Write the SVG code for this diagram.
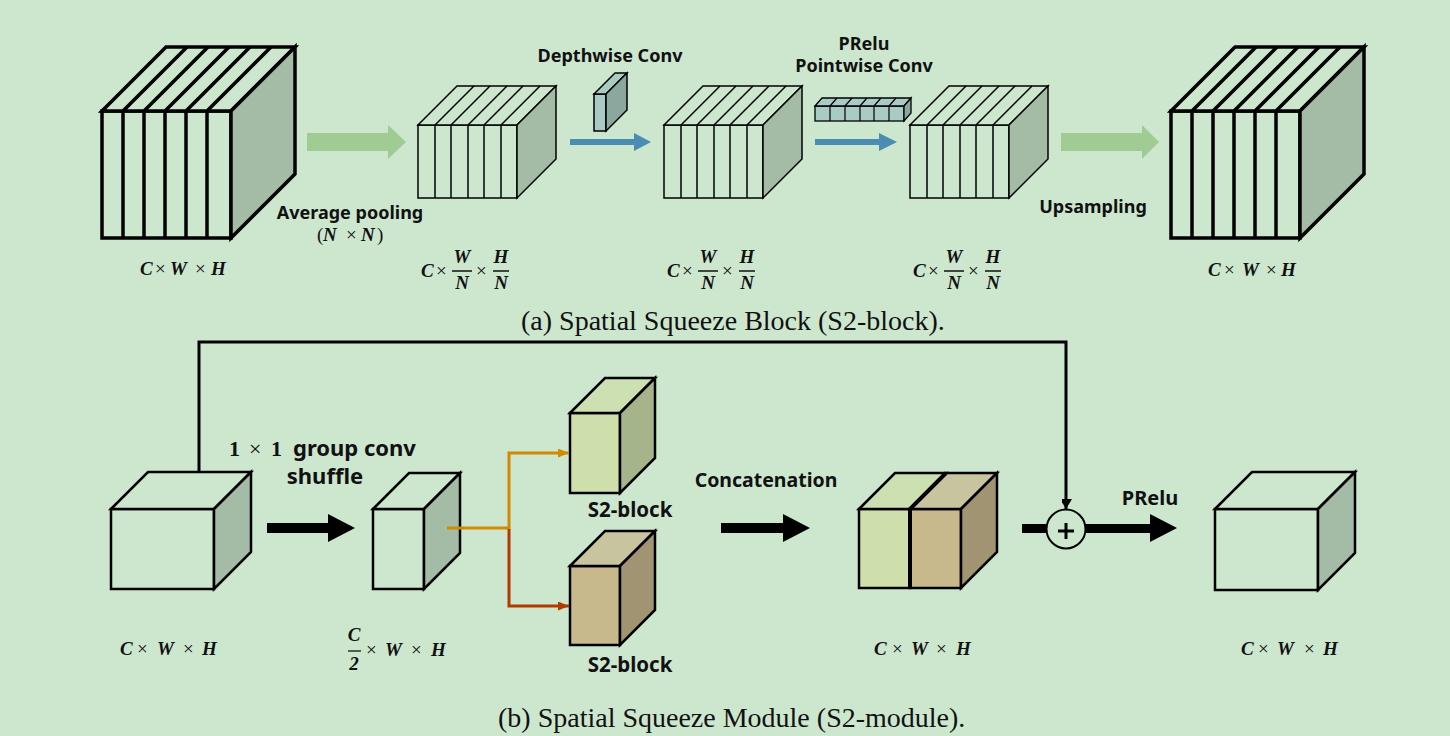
<svg xmlns="http://www.w3.org/2000/svg" xmlns:xlink="http://www.w3.org/1999/xlink" width="1450" height="736" viewBox="0 0 1450 736">
<style>
.bg{fill:#cde7cf}
.face{fill:#cde7cf}
.side{fill:#a4bca6}
.big{stroke:#000;stroke-width:3.5;stroke-linejoin:miter}
.med{stroke:#000;stroke-width:1.5}
.bot{stroke:#000;stroke-width:2.5}
.lb{font-family:"Noto Sans","Liberation Sans",sans-serif;font-weight:700;font-size:18px;fill:#111}
.lb2{font-family:"Noto Sans","Liberation Sans",sans-serif;font-weight:700;font-size:20px;fill:#111}
.m{font-family:"Liberation Serif",serif;font-weight:700;font-style:italic;font-size:19px;fill:#111}
.op{font-weight:400;font-style:normal}
.up{font-style:normal;font-weight:400}
.cap{font-family:"Liberation Serif",serif;font-size:28px;fill:#111}
.frac{stroke:#111;stroke-width:1.3}
</style>
<defs>
<g id="bigcube">
<rect class="face big" x="0" y="0" width="129" height="127"/>
<polygon class="face big" points="0,0 64,-64 193,-64 129,0"/>
<polygon class="side big" points="129,0 193,-64 193,63 129,127"/>
<path class="big" fill="none" d="M21,0V127M42,0V127M63,0V127M84,0V127M105,0V127M21,0L85,-64M42,0L106,-64M63,0L127,-64M84,0L148,-64M105,0L169,-64"/>
</g>
<g id="medcube">
<rect class="face med" x="0" y="0" width="99" height="73"/>
<polygon class="face med" points="0,0 39,-39 138,-39 99,0"/>
<polygon class="side med" points="99,0 138,-39 138,34 99,73"/>
<path class="med" fill="none" d="M17,0V73M33,0V73M50,0V73M66,0V73M83,0V73M17,0L56,-39M33,0L72,-39M50,0L89,-39M66,0L105,-39M83,0L122,-39"/>
</g>
<marker id="ahO" markerUnits="userSpaceOnUse" markerWidth="12" markerHeight="10" refX="11" refY="4.5" orient="auto"><path d="M0,0L11,4.5L0,9z" fill="#d08a00"/></marker>
<marker id="ahR" markerUnits="userSpaceOnUse" markerWidth="12" markerHeight="10" refX="11" refY="4.5" orient="auto"><path d="M0,0L11,4.5L0,9z" fill="#b23a00"/></marker>
<marker id="ahK" markerUnits="userSpaceOnUse" markerWidth="13" markerHeight="10" refX="10" refY="6" orient="auto"><path d="M0,0L10,6L0,12z" fill="#000"/></marker>
</defs>
<rect class="bg" x="0" y="0" width="1450" height="736"/>

<!-- (a) top row -->
<g id="cube-input-a"><use xlink:href="#bigcube" x="102" y="111"/></g>
<g id="cube-pool"><use xlink:href="#medcube" x="418" y="125"/></g>
<g id="cube-dw"><use xlink:href="#medcube" x="664" y="125"/></g>
<g id="cube-pw"><use xlink:href="#medcube" x="910" y="125"/></g>
<g id="cube-output-a"><use xlink:href="#bigcube" x="1171" y="111"/></g>

<g id="kernel-dw">
<rect x="594" y="94" width="12" height="37" fill="#aacbc3" stroke="#000" stroke-width="1.5"/>
<polygon points="594,94 615,73 627,73 606,94" fill="#aacbc3" stroke="#000" stroke-width="1.5"/>
<polygon points="606,94 627,73 627,110 606,131" fill="#8aa89d" stroke="#000" stroke-width="1.5"/>
</g>
<g id="kernel-pw">
<rect x="815" y="106" width="89" height="15" fill="#aacbc3" stroke="#000" stroke-width="1.3"/>
<polygon points="815,106 822,98 911,98 904,106" fill="#aacbc3" stroke="#000" stroke-width="1.3"/>
<polygon points="904,106 911,98 911,113 904,121" fill="#8aa89d" stroke="#000" stroke-width="1.3"/>
<path d="M830,106V121M845,106V121M860,106V121M874,106V121M889,106V121M830,106L837,98M845,106L852,98M860,106L867,98M874,106L881,98M889,106L896,98" stroke="#000" stroke-width="1.2" fill="none"/>
</g>

<g id="labels-a">
<text class="lb" x="350" y="219" text-anchor="middle">Average pooling</text>
<text class="m" y="241"><tspan class="up" x="317">(</tspan><tspan x="323">N</tspan><tspan class="op" x="346">×</tspan><tspan x="361">N</tspan><tspan class="up" x="377">)</tspan></text>
<text class="lb" x="610" y="62" text-anchor="middle">Depthwise Conv</text>
<text class="lb" x="864" y="50" text-anchor="middle">PRelu</text>
<text class="lb" x="864" y="72" text-anchor="middle">Pointwise Conv</text>
<text class="lb" x="1093" y="213" text-anchor="middle">Upsampling</text>
<text class="m" y="275"><tspan x="140">C</tspan><tspan class="op" x="155">×</tspan><tspan x="170">W</tspan><tspan class="op" x="195">×</tspan><tspan x="211">H</tspan></text>
<text class="m" y="276"><tspan x="1208">C</tspan><tspan class="op" x="1224">×</tspan><tspan x="1242">W</tspan><tspan class="op" x="1266">×</tspan><tspan x="1281">H</tspan></text>
<g id="frac1">
<text class="m" y="277"><tspan x="421">C</tspan><tspan class="op" x="436">×</tspan><tspan class="op" x="476">×</tspan></text>
<text class="m" x="462" y="263" text-anchor="middle">W</text><text class="m" x="462" y="289" text-anchor="middle">N</text>
<text class="m" x="501" y="263" text-anchor="middle">H</text><text class="m" x="501" y="289" text-anchor="middle">N</text>
<path class="frac" d="M452,271H472M493,271H509"/>
</g>
<use xlink:href="#frac1" x="246"/>
<use xlink:href="#frac1" x="492"/>
<text class="cap" x="521" y="330">(a) Spatial Squeeze Block (S2-block).</text>
</g>

<!-- (b) bottom row -->
<g id="cube-input-b">
<rect class="face bot" x="111" y="509" width="103" height="80"/>
<polygon class="face bot" points="111,509 148,472 251,472 214,509"/>
<polygon class="side bot" points="214,509 251,472 251,552 214,589"/>
</g>
<g id="cube-half">
<rect class="face bot" x="373" y="509" width="51" height="80"/>
<polygon class="face bot" points="373,509 409,473 460,473 424,509"/>
<polygon class="side bot" points="424,509 460,473 460,553 424,589"/>
</g>
<g id="s2-block-1">
<rect x="570" y="413" width="50" height="80" fill="#cfdfac" class="bot"/>
<polygon points="570,413 605,378 655,378 620,413" fill="#cde0b1" class="bot"/>
<polygon points="620,413 655,378 655,458 620,493" fill="#a5b48a" class="bot"/>
</g>
<g id="s2-block-2">
<rect x="570" y="566" width="50" height="79" fill="#c7b98c" class="bot"/>
<polygon points="570,566 605,531 655,531 620,566" fill="#c8c49f" class="bot"/>
<polygon points="620,566 655,531 655,610 620,645" fill="#a09473" class="bot"/>
</g>
<g id="cube-concat">
<rect x="859" y="509" width="51" height="79" fill="#cfdfac" class="bot"/>
<rect x="910" y="509" width="51" height="79" fill="#c7b98c" class="bot"/>
<polygon points="859,509 895,473 946,473 910,509" fill="#cde0b1" class="bot"/>
<polygon points="910,509 946,473 997,473 961,509" fill="#c8c49f" class="bot"/>
<polygon points="961,509 997,473 997,552 961,588" fill="#a09473" class="bot"/>
<path d="M910,588V509L946,473" fill="none" stroke="#000" stroke-width="4"/>
</g>
<g id="cube-output-b">
<rect class="face bot" x="1215" y="509" width="103" height="81"/>
<polygon class="face bot" points="1215,509 1252,472 1355,472 1318,509"/>
<polygon class="side bot" points="1318,509 1355,472 1355,553 1318,590"/>
</g>

<g id="connectors">
<polygon points="307,133 388,133 388,125 406,142 388,159 388,151 307,151" fill="#a0cc93"/>
<polygon points="1061,133 1142,133 1142,125 1159,142 1142,159 1142,151 1061,151" fill="#a0cc93"/>
<polygon points="570,139 634,139 634,133 651,142 634,151 634,145 570,145" fill="#4b8cb2"/>
<polygon points="815,139 879,139 879,133 897,142 879,151 879,145 815,145" fill="#4b8cb2"/>
<polygon points="267,523 328,523 328,514 355,528 328,542 328,533 267,533" fill="#000"/>
<polygon points="721,523 783,523 783,514 810,528 783,542 783,533 721,533" fill="#000"/>
<rect x="1022" y="524" width="26" height="9" fill="#000"/>
<polygon points="1084,524 1150,524 1150,514 1177,528 1150,542 1150,533 1084,533" fill="#000"/>
<path d="M199,472V342H1066V509" fill="none" stroke="#000" stroke-width="3" marker-end="url(#ahK)"/>
<path d="M447,528H509V453H569" fill="none" stroke="#d08a00" stroke-width="3" marker-end="url(#ahO)"/>
<path d="M509,529V606H569" fill="none" stroke="#b23a00" stroke-width="3" marker-end="url(#ahR)"/>
<g id="sum-node">
<circle cx="1066" cy="529" r="19.5" fill="#cde7cf" stroke="#000" stroke-width="2"/>
<path d="M1058,531H1074M1066,523V539" stroke="#000" stroke-width="3"/>
</g>
</g>

<g id="labels-b">
<text class="lb2" style="font-size:22px" y="456"><tspan class="m" style="font-size:22px;font-style:normal" x="229">1</tspan><tspan class="m op" style="font-size:22px" x="249">×</tspan><tspan class="m" style="font-size:22px;font-style:normal" x="271">1</tspan><tspan x="293">group conv</tspan></text>
<text class="lb2" style="font-size:22px" x="325" y="484" text-anchor="middle">shuffle</text>
<text class="lb2" style="font-size:20.5px" x="630" y="517" text-anchor="middle">S2-block</text>
<text class="lb2" style="font-size:20.5px" x="630" y="672" text-anchor="middle">S2-block</text>
<text class="lb2" style="font-size:19.5px" x="766" y="487" text-anchor="middle">Concatenation</text>
<text class="lb2" x="1150" y="505" text-anchor="middle">PRelu</text>
<text class="m" y="655"><tspan x="120">C</tspan><tspan class="op" x="137">×</tspan><tspan x="157">W</tspan><tspan class="op" x="183">×</tspan><tspan x="202">H</tspan></text>
<text class="m" x="354" y="641" text-anchor="middle">C</text>
<text class="m" x="354" y="670" text-anchor="middle">2</text>
<path class="frac" d="M348,651H361"/>
<text class="m" y="656"><tspan class="op" x="366">×</tspan><tspan x="385">W</tspan><tspan class="op" x="411">×</tspan><tspan x="431">H</tspan></text>
<text class="m" y="655"><tspan x="874">C</tspan><tspan class="op" x="892">×</tspan><tspan x="911">W</tspan><tspan class="op" x="936">×</tspan><tspan x="956">H</tspan></text>
<text class="m" y="655"><tspan x="1241">C</tspan><tspan class="op" x="1258">×</tspan><tspan x="1277">W</tspan><tspan class="op" x="1304">×</tspan><tspan x="1323">H</tspan></text>
<text class="cap" x="498" y="727">(b) Spatial Squeeze Module (S2-module).</text>
</g>
</svg>
